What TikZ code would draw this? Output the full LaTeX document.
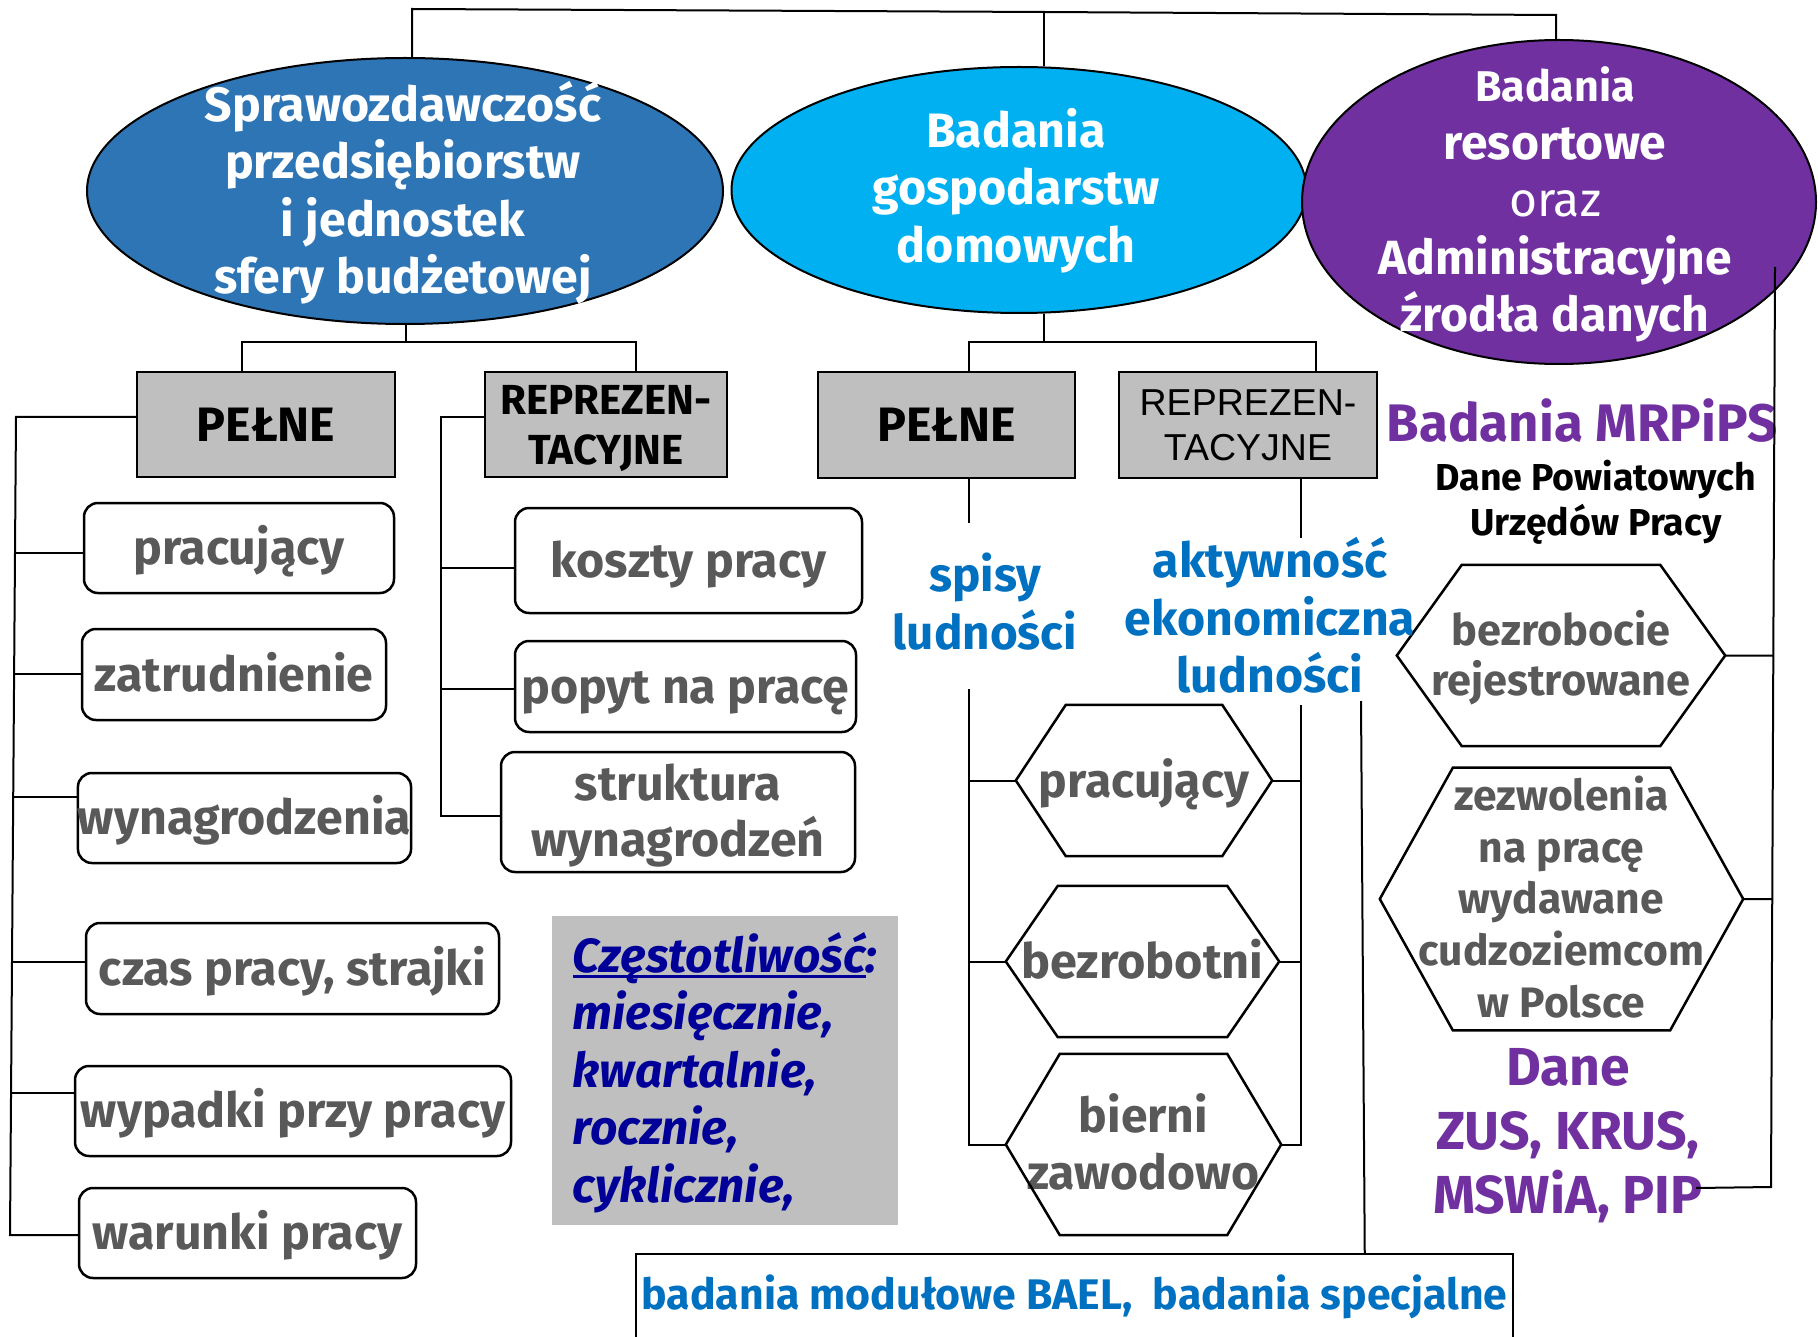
\documentclass[tikz,border=0pt]{standalone}
\usepackage{fontspec}
\setmainfont{Fira Sans}
\newfontfamily\arialf{Liberation Sans}
\usetikzlibrary{shapes.geometric,calc}
\definecolor{eblue}{HTML}{2E75B6}
\definecolor{ecyan}{HTML}{00B0F0}
\definecolor{epurple}{HTML}{7030A0}
\definecolor{boxgray}{HTML}{BFBFBF}
\definecolor{txtgray}{HTML}{595959}
\definecolor{tblue}{HTML}{0070C0}
\definecolor{dblue}{HTML}{000099}
\newcommand\FSz[2]{\fontsize{#1pt}{#2pt}\selectfont}
\newcommand\Sa{\rule{0pt}{1em}}
\newcommand\Sb{\rule[-0.3em]{0pt}{0.3em}}
\newcommand\myul[1]{\setbox0\hbox{#1}\rlap{\rule[-6pt]{\wd0}{3pt}}\box0}
\newcommand\hexof[2]{\draw[shapeline] (#1.west) -- ([xshift=#2pt]#1.north west) -- ([xshift=-#2pt]#1.north east) -- (#1.east) -- ([xshift=-#2pt]#1.south east) -- ([xshift=#2pt]#1.south west) -- cycle;}
\begin{document}
\begin{tikzpicture}[x=1pt,y=-1pt,
  conn/.style={line width=2pt, draw=black},
  shapeline/.style={line width=2.5pt, draw=black},
  ell/.style={ellipse, draw=black, line width=2pt, inner sep=0pt},
  etext/.style={text=white, align=center, inner sep=0pt, font=\bfseries\FSz{48}{57.5}},
  gbox/.style={rectangle, draw=black, line width=2.5pt, fill=boxgray, inner sep=0pt, align=center},
  rbox/.style={rectangle, rounded corners=14pt, draw=black, line width=2.5pt, fill=white, inner sep=0pt, align=center, text=txtgray, font=\bfseries\FSz{48.3}{56}},
  hexn/.style={inner sep=0pt, align=center, text=txtgray, font=\bfseries\FSz{48}{57}},
  btext/.style={inner sep=0pt, align=center, text=tblue, font=\bfseries\FSz{48}{57.5}},
  ptext/.style={inner sep=0pt, align=center, text=epurple, font=\bfseries\FSz{53.5}{64}}]
\useasboundingbox (0,0) rectangle (1818,1337);

% ellipses
\node[ell, fill=eblue, minimum width=636pt, minimum height=266pt] (e1) at (405,191) {};
\node[ell, fill=ecyan, minimum width=575pt, minimum height=246pt] (e2) at (1019,190) {};
\node[ell, fill=epurple, minimum width=514pt, minimum height=324pt] (e3) at (1559,202) {};
\node[etext, font=\bfseries\FSz{48.2}{57.5}] (e1t) at (403,190.4) {\Sa Sprawozdawczość\\przedsiębiorstw\\i jednostek\\sfery budżetowej\Sb};
\node[etext, font=\bfseries\FSz{48.3}{57.5}] (e2t) at (1016,187.6) {\Sa Badania\\gospodarstw\\domowych\Sb};
\node[etext] (e3t) at (1555,200.2) {\Sa{\FSz{43}{57.5}Badania}\\resortowe\\{\mdseries oraz}\\Administracyjne\\źrodła danych\Sb};

% grey boxes
\node[gbox, minimum width=258pt, minimum height=105pt, font=\bfseries\FSz{48.3}{50}] (p1) at (266,424.5) {\Sa PEŁNE\Sb};
\node[gbox, minimum width=242pt, minimum height=105pt, font=\bfseries\FSz{42}{50}] (r1) at (606,424.5) {\Sa REPREZEN-\\TACYJNE\Sb};
\node[gbox, minimum width=257pt, minimum height=106pt, font=\bfseries\FSz{48.3}{50}] (p2) at (946.5,425) {\Sa PEŁNE\Sb};
\node[gbox, minimum width=258pt, minimum height=106pt, font=\arialf\FSz{37.5}{45}] (r2) at (1248,425) {\Sa REPREZEN-\\TACYJNE\Sb};

% rounded boxes
\node[rbox, minimum width=310pt, minimum height=90pt] (a1) at (239,548) {\Sa pracujący\Sb};
\node[rbox, minimum width=304pt, minimum height=91pt] (a2) at (234,674.5) {\Sa zatrudnienie\Sb};
\node[rbox, minimum width=329pt, minimum height=90pt] (a3) at (244.5,818) {\Sa wynagrodzenia\Sb};
\node[rbox, minimum width=413pt, minimum height=91pt] (a4) at (292.5,968.5) {\Sa czas pracy, strajki\Sb};
\node[rbox, minimum width=436pt, minimum height=90pt] (a5) at (293,1111) {\Sa wypadki przy pracy\Sb};
\node[rbox, minimum width=337pt, minimum height=90pt] (a6) at (247.5,1233) {\Sa warunki pracy\Sb};
\node[rbox, minimum width=347pt, minimum height=105pt] (k1) at (688.5,560.5) {\Sa koszty pracy\Sb};
\node[rbox, minimum width=341pt, minimum height=91pt] (k2) at (685.5,686.5) {\Sa popyt na pracę\Sb};
\node[rbox, minimum width=354pt, minimum height=120pt] (k3) at (678,812) {\Sa struktura\\wynagrodzeń\Sb};

% frequency box
\node[fill=boxgray, minimum width=346pt, minimum height=309pt, inner sep=0pt, align=left, text=dblue, font=\bfseries\itshape\FSz{47.9}{57.5}] (fq) at (725,1070.5) {\Sa\myul{Częstotliwość}:\\miesięcznie,\\kwartalnie,\\rocznie,\\cyklicznie,\Sb};

% hexagons
\node[hexn, minimum width=256pt, minimum height=151pt] (h1) at (1144,780.5) {\Sa pracujący\Sb};
\node[hexn, minimum width=273pt, minimum height=151pt, font=\bfseries\FSz{48.6}{57}] (h2) at (1142.5,961.5) {\Sa bezrobotni\Sb};
\node[hexn, minimum width=275pt, minimum height=181pt] (h3) at (1143.5,1144.5) {\Sa bierni\\zawodowo\Sb};
\node[hexn, minimum width=328pt, minimum height=181pt, font=\bfseries\FSz{43.3}{50}] (h4) at (1561,655.5) {\Sa bezrobocie\\rejestrowane\Sb};
\node[hexn, minimum width=363pt, minimum height=256pt, font=\bfseries\FSz{42.6}{51.7}] (h5) at (1561.5,899) {\Sa zezwolenia\\na pracę\\wydawane\\cudzoziemcom\\w Polsce\Sb};
\hexof{h1}{50}
\hexof{h2}{52}
\hexof{h3}{54}
\hexof{h4}{65}
\hexof{h5}{73}

% free texts
\node[btext, font=\bfseries\FSz{47.6}{58}] (sp) at (985,604.3) {\Sa spisy\\ludności\Sb};
\node[btext, font=\bfseries\FSz{48.2}{57.5}] (ak) at (1270,618.6) {\Sa aktywność\\ekonomiczna\\ludności\Sb};
\node[ptext, font=\bfseries\FSz{52.8}{60}] (mr) at (1582,423.5) {\Sa Badania MRPiPS\Sb};
\node[inner sep=0pt, align=center, font=\bfseries\FSz{37.5}{45}] (pup) at (1596,499.4) {\Sa Dane Powiatowych\\Urzędów Pracy\Sb};
\node[ptext] (zus) at (1568,1130.3) {\Sa Dane\\ZUS, KRUS,\\MSWiA, PIP\Sb};

% bottom box
\node[rectangle, draw=black, line width=2.5pt, minimum width=877pt, minimum height=91pt, inner sep=0pt, text=tblue, font=\bfseries\FSz{42.8}{50}] (bael) at (1074.5,1299.5) {\rule[-0.52em]{0pt}{1.52em}badania modułowe BAEL,~~badania specjalne};

% connectors: top
\coordinate (t1) at (412,9);
\coordinate (t2) at (1044,12);
\coordinate (t3) at (1556,15);
\draw[conn] (t1 |- e1.north) -- (t1) -- (t2) -- (t3) -- (t3 |- e3.north);
\draw[conn] (t2) -- (t2 |- e2.north);

% ellipse 1 down
\coordinate (b1) at (406,342);
\coordinate (b1l) at (242,342);
\coordinate (b1r) at (636,342);
\draw[conn] (b1 |- e1.south) -- (b1);
\draw[conn] (b1l |- p1.north) -- (b1l) -- (b1r) -- (b1r |- r1.north);

% ellipse 2 down
\coordinate (b2) at (1044,342);
\coordinate (b2l) at (969,342);
\coordinate (b2r) at (1316,342);
\draw[conn] (b2 |- e2.south) -- (b2);
\draw[conn] (b2l |- p2.north) -- (b2l) -- (b2r) -- (b2r |- r2.north);

% left bar
\coordinate (L0) at (16,417);
\coordinate (L1) at (15,553);
\coordinate (L2) at (14,674);
\coordinate (L3) at (13,797);
\coordinate (L4) at (12,962);
\coordinate (L5) at (11,1093);
\coordinate (L6) at (10,1235);
\draw[conn] (p1.west |- L0) -- (L0) -- (L6) -- (a6.west |- L6);
\foreach \c/\n in {L1/a1,L2/a2,L3/a3,L4/a4,L5/a5}
  \draw[conn] (\c) -- (\n.west |- \c);

% representative bar 1
\coordinate (R0) at (441,417);
\coordinate (R1) at (441,568);
\coordinate (R2) at (441,689);
\coordinate (R3) at (441,816);
\draw[conn] (r1.west |- R0) -- (R0) -- (R3) -- (k3.west |- R3);
\draw[conn] (R1) -- (k1.west |- R1);
\draw[conn] (R2) -- (k2.west |- R2);

% household: PELNE bar
\coordinate (M0) at (969,523);
\coordinate (M1) at (969,689);
\draw[conn] (M0 |- p2.south) -- (M0);
\draw[conn] (M1) -- (M1 |- h3.west) -- (h3.west);
\draw[conn] (M1 |- h1.west) -- (h1.west);
\draw[conn] (M1 |- h2.west) -- (h2.west);

% household: REPREZENTACYJNE bar
\coordinate (N0) at (1301,538);
\coordinate (N1) at (1301,705);
\draw[conn] (N0 |- r2.south) -- (N0);
\draw[conn] (N1) -- (N1 |- h3.east) -- (h3.east);
\draw[conn] (N1 |- h1.east) -- (h1.east);
\draw[conn] (N1 |- h2.east) -- (h2.east);

% line to bottom box
\coordinate (Q0) at (1361,701);
\draw[conn] (Q0) -- ($(bael.north west)+(730,0)$);

% right bar
\coordinate (S0) at (1775,267);
\coordinate (S3) at (1771,1187);
\coordinate (Z0) at (1696,1188);
\draw[conn] (S0) -- (S3) -- (Z0);
\draw[conn] (h4.east) -- ($(S0)!(h4.east)!(S3)$);
\draw[conn] (h5.east) -- ($(S0)!(h5.east)!(S3)$);
\end{tikzpicture}
\end{document}
